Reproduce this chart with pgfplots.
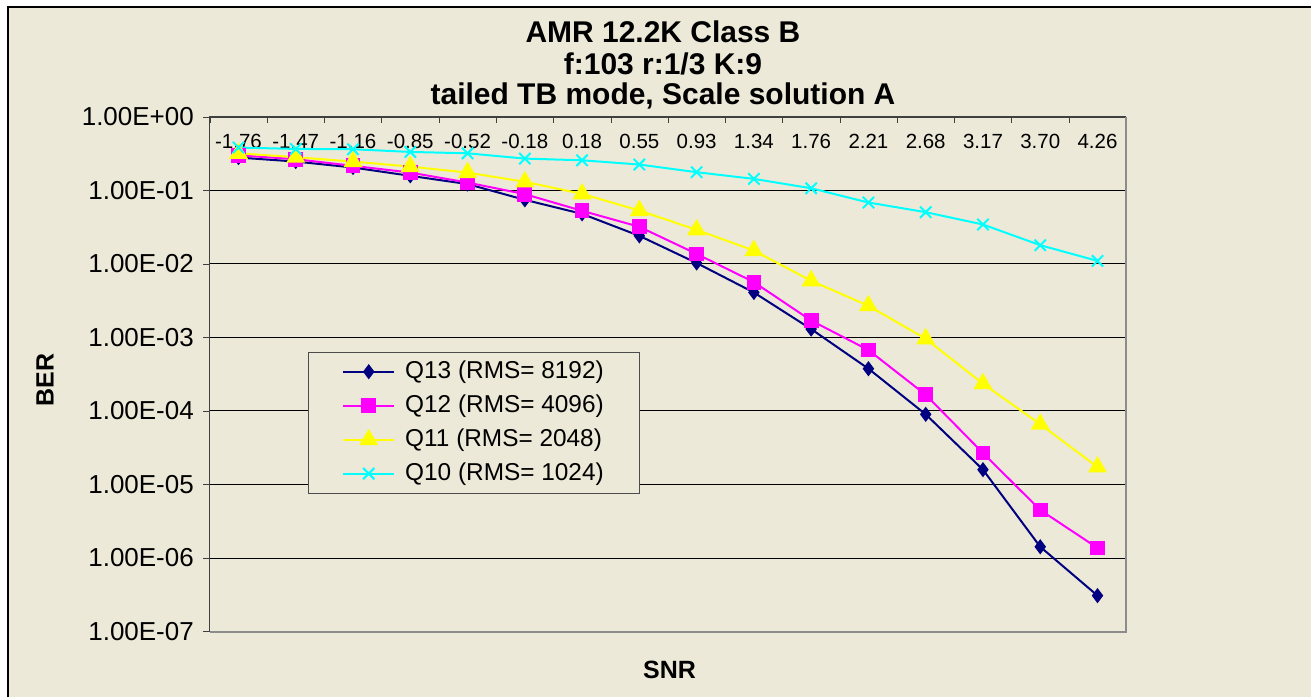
\documentclass[border=0pt]{standalone}
\usepackage{fontspec}
\setmainfont{Liberation Sans}
\usepackage{pgfplots}
\pgfplotsset{compat=1.18}
\definecolor{bg}{RGB}{236,233,216}
\definecolor{qnavy}{RGB}{0,0,128}
\definecolor{qmag}{RGB}{255,0,255}
\definecolor{qyel}{RGB}{255,255,0}
\definecolor{qcyan}{RGB}{0,255,255}
\newcommand\xf{\fontsize{10.25}{12}\selectfont}
\newcommand\yf{\fontsize{13}{15}\selectfont}
\begin{document}
\begin{tikzpicture}
\fill[white] (0,0) rectangle (656pt,-349pt);
\fill[bg] (4pt,-3.5pt) rectangle (656pt,-349pt);
\draw[black, line width=1pt] (4pt,-349pt) -- (4pt,-3.5pt) -- (656pt,-3.5pt);
\begin{axis}[
  at={(105pt,-316pt)}, anchor=south west,
  scale only axis, width=458.5pt, height=257.5pt,
  ymode=log, ymin=1e-7, ymax=1,
  xmin=-0.5, xmax=15.5,
  xtick={0,...,15},
  xticklabels={-1.76,-1.47,-1.16,-0.85,-0.52,-0.18,0.18,0.55,0.93,1.34,1.76,2.21,2.68,3.17,3.70,4.26},
  xticklabel pos=upper, xtick pos=upper,
  minor xtick={-0.5,0.5,...,15.5},
  major x tick style={draw=none},
  minor x tick style={yshift=-3pt, black!75},
  minor tick length=3pt,
  ytick={1e-7,1e-6,1e-5,1e-4,1e-3,1e-2,1e-1,1},
  yticklabels={1.00E-07,1.00E-06,1.00E-05,1.00E-04,1.00E-03,1.00E-02,1.00E-01,1.00E+00},
  ytick pos=left,
  yminorticks=false,
  tick align=outside,
  major tick length=3.5pt,
  major y tick style={black!75},
  ymajorgrids,
  major grid style={black, line width=0.5pt},
  axis line style={draw=none},
  every x tick label/.append style={font=\xf, anchor=base, yshift=-19.5pt},
  every y tick label/.append style={font=\yf, xshift=-1pt},
  legend style={at={(axis description cs:0.1069,0.5437)}, anchor=north west,
    fill=bg, draw=black!70, line width=0.5pt,
    font=\fontsize{12.2}{14}\selectfont,
    inner xsep=17pt, inner ysep=3pt, row sep=3.5pt, column sep=4pt,
    nodes={inner sep=1pt, text height=9pt, text depth=2.5pt}},
  legend cell align=left,
  legend image code/.code={\draw[mark repeat=2,mark phase=2] plot coordinates {(0pt,0pt)(12.75pt,0pt)(25.5pt,0pt)};},
  clip=false,
]
\addplot[qnavy, line width=1pt, mark=diamond*, mark size=3pt, mark options={fill=qnavy}] coordinates {
(0,0.28)(1,0.247)(2,0.205)(3,0.158)(4,0.122)(5,0.0745)(6,0.048)(7,0.0241)
(8,0.0103)(9,0.00409)(10,0.0013)(11,3.76e-4)(12,9.0e-5)(13,1.59e-5)(14,1.42e-6)(15,3.08e-7)};
\addlegendentry{Q13 (RMS= 8192)}
\addplot[qmag, line width=1pt, mark=square*, mark size=3.2pt, mark options={fill=qmag}] coordinates {
(0,0.30)(1,0.266)(2,0.216)(3,0.175)(4,0.128)(5,0.089)(6,0.0528)(7,0.032)
(8,0.0137)(9,0.00566)(10,0.0017)(11,6.74e-4)(12,1.66e-4)(13,2.68e-5)(14,4.5e-6)(15,1.37e-6)};
\addlegendentry{Q12 (RMS= 4096)}
\addplot[qyel, line width=1pt, mark=triangle*, mark size=4.5pt, mark options={fill=qyel}] coordinates {
(0,0.32)(1,0.283)(2,0.247)(3,0.211)(4,0.175)(5,0.131)(6,0.0898)(7,0.0533)
(8,0.0291)(9,0.0152)(10,0.0059)(11,0.0027)(12,9.6e-4)(13,2.35e-4)(14,6.6e-5)(15,1.73e-5)};
\addlegendentry{Q11 (RMS= 2048)}
\addplot[qcyan, line width=1pt, mark=x, mark size=4pt] coordinates {
(0,0.383)(1,0.367)(2,0.363)(3,0.334)(4,0.32)(5,0.271)(6,0.257)(7,0.225)
(8,0.177)(9,0.1436)(10,0.107)(11,0.0685)(12,0.0506)(13,0.0344)(14,0.018)(15,0.011)};
\addlegendentry{Q10 (RMS= 1024)}
\draw[black!75, line width=0.6pt] (rel axis cs:0,0) -- (rel axis cs:0,1) -- (rel axis cs:1,1);
\draw[black!45, line width=1pt] (rel axis cs:0,0) -- (rel axis cs:1,0) -- (rel axis cs:1,1);
\end{axis}
\node[font=\bfseries\fontsize{15}{16}\selectfont] at (331.75pt,-16pt) {AMR 12.2K Class B};
\node[font=\bfseries\fontsize{15}{16}\selectfont] at (331.75pt,-32pt) {f:103 r:1/3 K:9};
\node[font=\bfseries\fontsize{15}{16}\selectfont] at (331.75pt,-48pt) {tailed TB mode, Scale solution A};
\node[font=\bfseries\fontsize{12.5}{14}\selectfont, rotate=90] at (22.5pt,-190pt) {BER};
\node[font=\bfseries\fontsize{12.5}{14}\selectfont] at (335pt,-335pt) {SNR};
\end{tikzpicture}
\end{document}
